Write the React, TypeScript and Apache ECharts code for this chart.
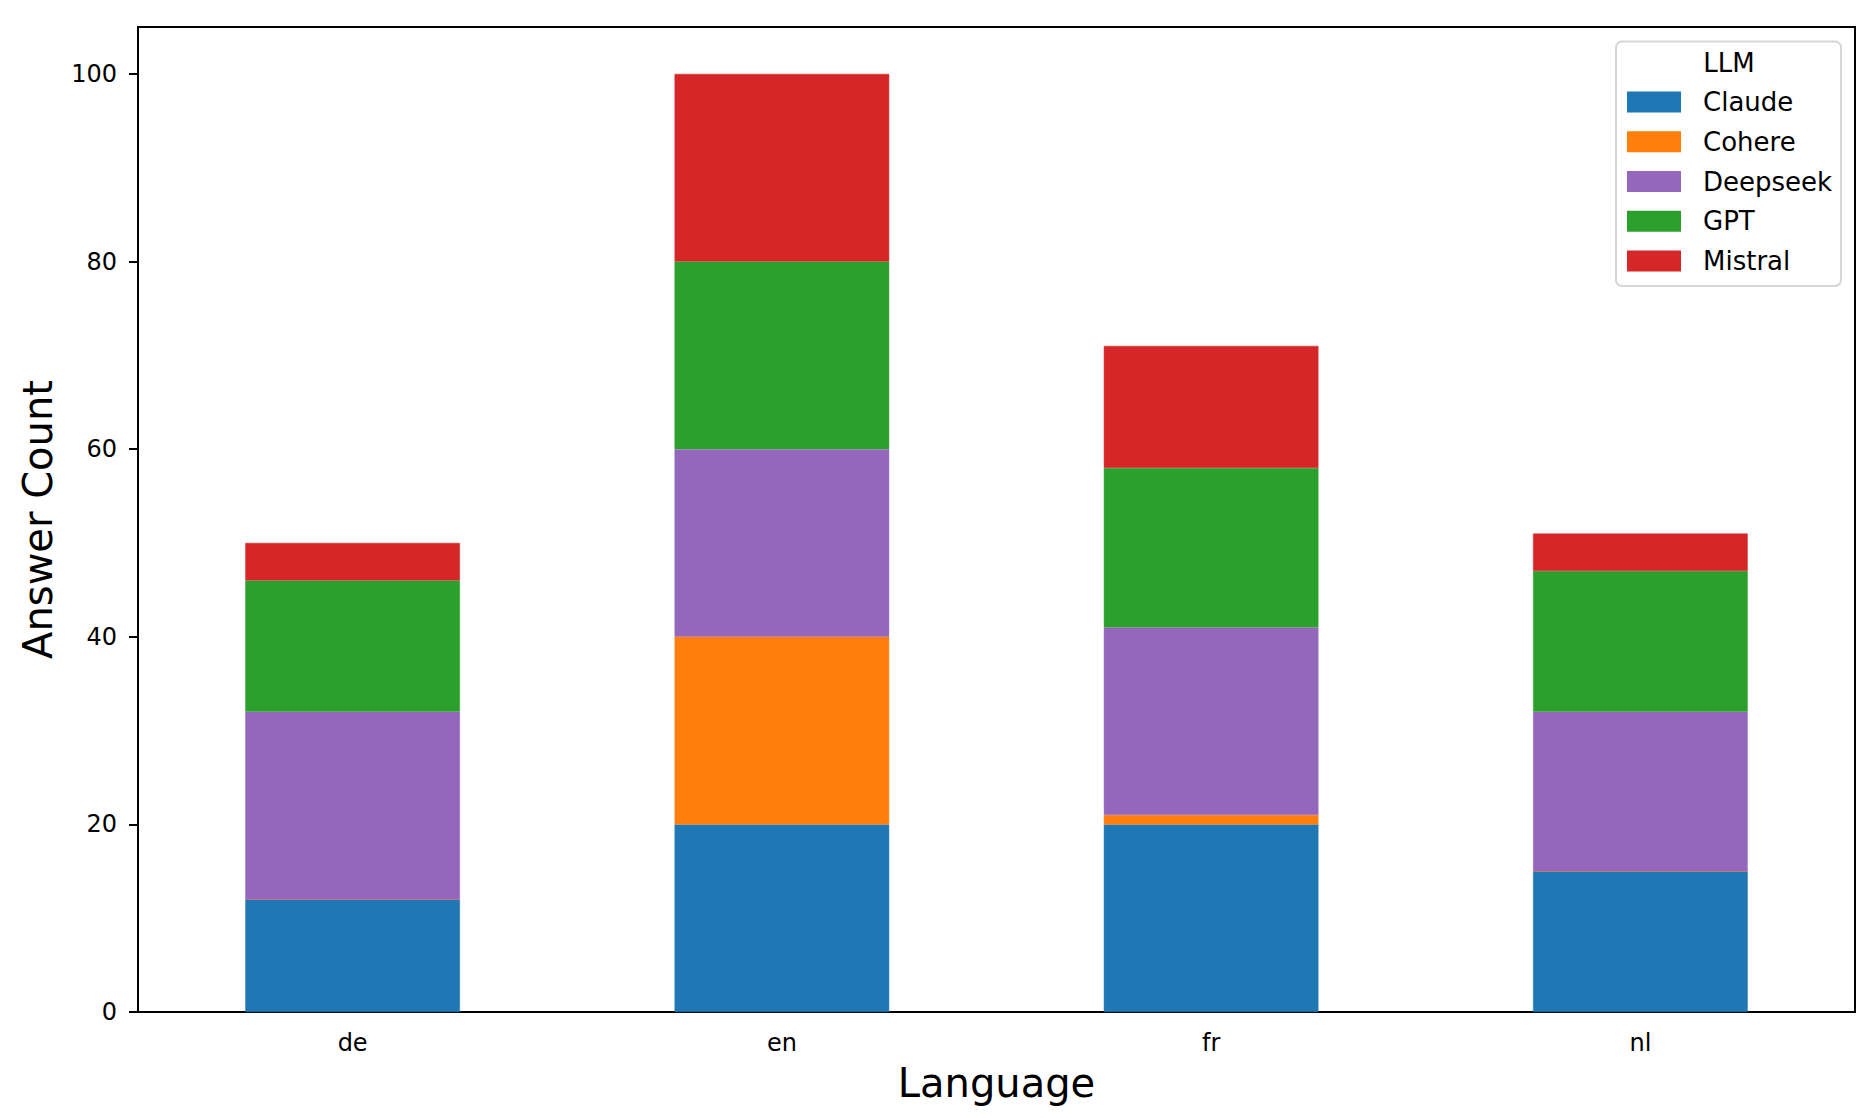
import { useEffect, useRef } from 'react';
import * as echarts from 'echarts';

const languages = ['de', 'en', 'fr', 'nl'];
const llms = ['Claude', 'Cohere', 'Deepseek', 'GPT', 'Mistral'];
const claude = [12, 20, 20, 15];
const cohere = [0, 20, 1, 0];
const deepseek = [20, 20, 20, 17];
const gpt = [14, 20, 17, 15];
const mistral = [4, 20, 13, 4];
const yTicks = [0, 20, 40, 60, 80, 100];

const colors = ['#1f77b4', '#ff7f0e', '#9467bd', '#2ca02c', '#d62728'];
const FONT = 'DejaVu Sans';

export default function App() {
  const chartRef = useRef<HTMLDivElement>(null);

  useEffect(() => {
    document.body.style.margin = '0';
    if (!chartRef.current) return;
    const chart = echarts.init(chartRef.current, null, { renderer: 'svg' });

    const values = [claude, cohere, deepseek, gpt, mistral];

    const option: echarts.EChartsOption = {
      animation: false,
      backgroundColor: '#ffffff',
      textStyle: { fontFamily: FONT },
      grid: {
        left: 138,
        right: 18,
        top: 27,
        bottom: 106,
        show: true,
        borderColor: '#000',
        borderWidth: 2,
        backgroundColor: 'transparent',
      },
      xAxis: {
        type: 'category',
        data: languages,
        boundaryGap: true,
        name: 'Language',
        nameLocation: 'middle',
        nameGap: 51,
        nameTextStyle: { fontFamily: FONT, fontSize: 40, color: '#000', lineHeight: 40 },
        axisLine: { lineStyle: { color: '#000', width: 2 } },
        axisTick: { alignWithLabel: true, length: 9, lineStyle: { color: '#000', width: 2 } },
        axisLabel: { fontFamily: FONT, fontSize: 24, color: '#000', margin: 19, lineHeight: 24 },
        splitLine: { show: false },
      },
      yAxis: {
        type: 'value',
        min: 0,
        max: 105,
        interval: 20,
        name: 'Answer Count',
        nameLocation: 'middle',
        nameGap: 80,
        nameRotate: 90,
        nameTextStyle: { fontFamily: FONT, fontSize: 40, color: '#000', lineHeight: 40 },
        axisLine: { show: true, lineStyle: { color: '#000', width: 2 } },
        axisTick: { show: true, length: 9, customValues: yTicks, lineStyle: { color: '#000', width: 2 } },
        axisLabel: { fontFamily: FONT, fontSize: 24, color: '#000', margin: 21, customValues: yTicks },
        splitLine: { show: false },
      },
      legend: {
        orient: 'vertical',
        left: 1627,
        top: 89,
        padding: 0,
        itemWidth: 52,
        itemHeight: 19,
        itemGap: 13.75,
        icon: 'rect',
        data: llms,
        textStyle: {
          fontFamily: FONT,
          fontSize: 26,
          color: '#000',
          lineHeight: 26,
          padding: [0, 0, 0, 18],
        },
      },
      graphic: [
        {
          type: 'rect',
          z: 0,
          shape: { x: 1616, y: 41.5, width: 225, height: 244.5, r: 6 },
          style: { fill: '#ffffff', stroke: '#d6d6d6', lineWidth: 2 },
        },
        {
          type: 'text',
          z: 1,
          x: 1729,
          y: 63,
          style: {
            text: 'LLM',
            fontFamily: FONT,
            fontSize: 26,
            fill: '#000',
            align: 'center',
            verticalAlign: 'middle',
          },
        },
      ],
      series: llms.map((name, i) => ({
        name,
        type: 'bar',
        stack: 'total',
        barWidth: '50%',
        data: values[i],
        itemStyle: { color: colors[i], borderColor: colors[i], borderWidth: 0.5 },
      })),
    };

    chart.setOption(option);

    return () => {
      chart.dispose();
    };
  }, []);

  return <div ref={chartRef} style={{ width: 1873, height: 1118 }} />;
}
